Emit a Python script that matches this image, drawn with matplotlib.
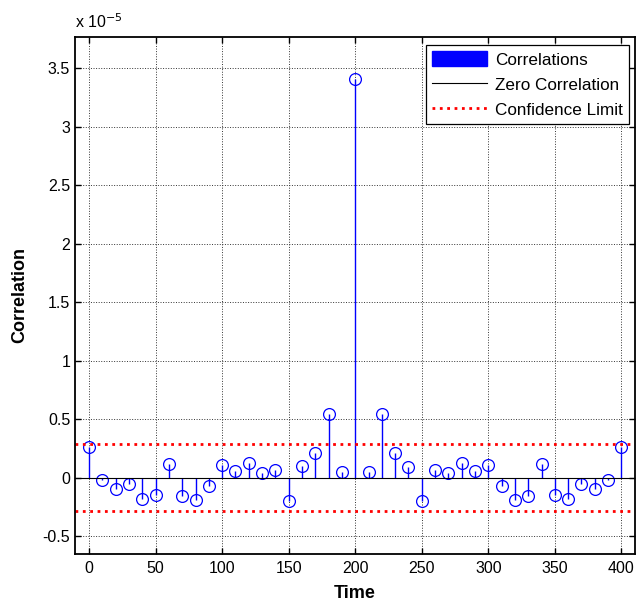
import matplotlib
matplotlib.use("Agg")
import matplotlib.pyplot as plt
import numpy as np
from matplotlib.patches import Patch
from matplotlib.lines import Line2D

plt.rcParams["font.family"] = ["Liberation Sans", "DejaVu Sans"]

# lag times and correlation values (units of 1e-5)
lags = np.arange(0, 401, 10)
corr = [0.26, -0.02, -0.10, -0.057, -0.18, -0.15, 0.12, -0.16, -0.19, -0.068,
        0.11, 0.06, 0.125, 0.037, 0.068, -0.20, 0.097, 0.21, 0.545, 0.05,
        3.41,
        0.05, 0.545, 0.21, 0.094, -0.20, 0.066, 0.037, 0.128, 0.06, 0.11,
        -0.068, -0.19, -0.16, 0.12, -0.15, -0.18, -0.057, -0.10, -0.02, 0.26]
conf_limit = 0.29

fig = plt.figure(figsize=(6.36, 6.05), dpi=100)
ax = fig.add_axes([0.118, 0.085, 0.880, 0.854])

ax.grid(True, color="#333333", ls=":", lw=0.7)
ax.set_axisbelow(True)

ml, sl, bl = ax.stem(lags, corr, linefmt="b-", markerfmt="o", basefmt="k-")
plt.setp(sl, color="blue", lw=1.0)
plt.setp(ml, markerfacecolor="none", markeredgecolor="blue", markersize=8.5,
         markeredgewidth=0.9)
plt.setp(bl, color="black", lw=0.8)
bl.set_xdata([-10.5, 410])

ax.axhline(conf_limit, color="red", ls=":", lw=2.0)
ax.axhline(-conf_limit, color="red", ls=":", lw=2.0)

ax.set_xlim(-10.5, 410)
ax.set_ylim(-0.65, 3.77)
ax.set_xticks(np.arange(0, 401, 50))
ax.set_yticks([-0.5, 0, 0.5, 1, 1.5, 2, 2.5, 3, 3.5])
ax.set_yticklabels(["-0.5", "0", "0.5", "1", "1.5", "2", "2.5", "3", "3.5"])
ax.tick_params(labelsize=11.5, direction="in", length=4, width=1.0,
               top=True, right=True)
ax.tick_params(axis="x", pad=5)
for s in ax.spines.values():
    s.set_linewidth(1.3)

ax.text(0.0, 1.012, r"x 10$^{-5}$", transform=ax.transAxes, fontsize=11.5,
        ha="left", va="bottom")

ax.set_xlabel("Time", fontsize=13, fontweight="bold", labelpad=7)
ax.set_ylabel("Correlation", fontsize=13, fontweight="bold", labelpad=10)

handles = [Patch(facecolor="blue", edgecolor="blue"),
           Line2D([], [], color="black", lw=0.8),
           Line2D([], [], color="red", ls=":", lw=2.0)]
leg = ax.legend(handles, ["Correlations", "Zero Correlation", "Confidence Limit"],
                loc="upper right", bbox_to_anchor=(0.99, 0.984),
                fontsize=12.3, fancybox=False, framealpha=1.0,
                edgecolor="black", handlelength=3.2, handleheight=1.0,
                borderpad=0.35, labelspacing=0.5, handletextpad=0.5,
                borderaxespad=0.0)
leg.get_frame().set_linewidth(0.9)

fig.savefig("out.png", dpi=100)
